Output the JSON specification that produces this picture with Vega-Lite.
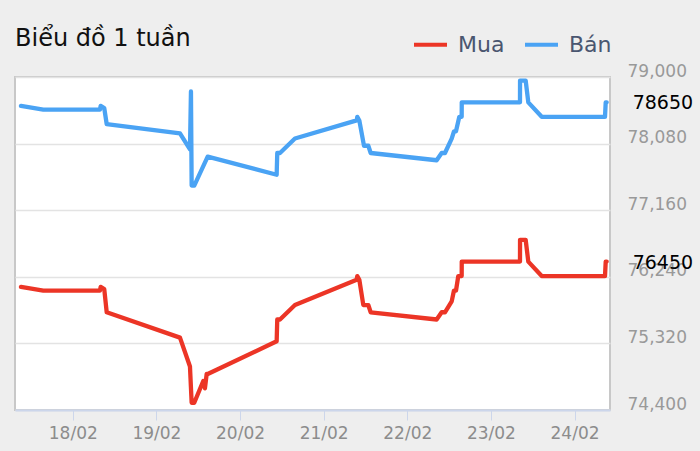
{
  "$schema": "https://vega.github.io/schema/vega-lite/v6.json",
  "width": 595,
  "height": 333,
  "autosize": {"type": "none"},
  "padding": {"left": 15, "top": 77, "right": 90, "bottom": 41},
  "background": "#eeeeee",
  "title": {"text": "Biểu đồ 1 tuần", "anchor": "start", "frame": "group", "fontSize": 24, "font": "DejaVu Sans", "fontWeight": "normal", "color": "#111111", "offset": -25},
  "config": {
    "view": {"fill": "white", "stroke": "#c8c8c8", "strokeWidth": 2},
    "font": "DejaVu Sans"
  },
  "datasets": {
    "prices": [
      {"t": "2024-02-17T09:08", "p": 78600, "s": "Bán"},
      {"t": "2024-02-17T15:32", "p": 78550, "s": "Bán"},
      {"t": "2024-02-18T07:48", "p": 78550, "s": "Bán"},
      {"t": "2024-02-18T08:00", "p": 78600, "s": "Bán"},
      {"t": "2024-02-18T09:02", "p": 78570, "s": "Bán"},
      {"t": "2024-02-18T09:44", "p": 78350, "s": "Bán"},
      {"t": "2024-02-19T06:46", "p": 78220, "s": "Bán"},
      {"t": "2024-02-19T09:38", "p": 78000, "s": "Bán"},
      {"t": "2024-02-19T09:55", "p": 78800, "s": "Bán"},
      {"t": "2024-02-19T10:07", "p": 77500, "s": "Bán"},
      {"t": "2024-02-19T10:52", "p": 77500, "s": "Bán"},
      {"t": "2024-02-19T14:43", "p": 77900, "s": "Bán"},
      {"t": "2024-02-20T10:31", "p": 77650, "s": "Bán"},
      {"t": "2024-02-20T10:41", "p": 77950, "s": "Bán"},
      {"t": "2024-02-20T11:28", "p": 77950, "s": "Bán"},
      {"t": "2024-02-20T15:46", "p": 78150, "s": "Bán"},
      {"t": "2024-02-21T09:29", "p": 78400, "s": "Bán"},
      {"t": "2024-02-21T09:39", "p": 78450, "s": "Bán"},
      {"t": "2024-02-21T10:14", "p": 78400, "s": "Bán"},
      {"t": "2024-02-21T11:35", "p": 78050, "s": "Bán"},
      {"t": "2024-02-21T12:49", "p": 78050, "s": "Bán"},
      {"t": "2024-02-21T13:30", "p": 77950, "s": "Bán"},
      {"t": "2024-02-22T08:26", "p": 77850, "s": "Bán"},
      {"t": "2024-02-22T09:52", "p": 77950, "s": "Bán"},
      {"t": "2024-02-22T10:49", "p": 77950, "s": "Bán"},
      {"t": "2024-02-22T12:45", "p": 78150, "s": "Bán"},
      {"t": "2024-02-22T13:24", "p": 78250, "s": "Bán"},
      {"t": "2024-02-22T13:59", "p": 78250, "s": "Bán"},
      {"t": "2024-02-22T14:56", "p": 78450, "s": "Bán"},
      {"t": "2024-02-22T15:37", "p": 78450, "s": "Bán"},
      {"t": "2024-02-22T15:38", "p": 78650, "s": "Bán"},
      {"t": "2024-02-23T08:21", "p": 78650, "s": "Bán"},
      {"t": "2024-02-23T08:22", "p": 78950, "s": "Bán"},
      {"t": "2024-02-23T09:59", "p": 78950, "s": "Bán"},
      {"t": "2024-02-23T10:44", "p": 78650, "s": "Bán"},
      {"t": "2024-02-23T14:35", "p": 78450, "s": "Bán"},
      {"t": "2024-02-24T08:45", "p": 78450, "s": "Bán"},
      {"t": "2024-02-24T08:57", "p": 78650, "s": "Bán"},
      {"t": "2024-02-24T09:14", "p": 78650, "s": "Bán"},
      {"t": "2024-02-17T09:08", "p": 76100, "s": "Mua"},
      {"t": "2024-02-17T15:32", "p": 76050, "s": "Mua"},
      {"t": "2024-02-18T07:48", "p": 76050, "s": "Mua"},
      {"t": "2024-02-18T08:00", "p": 76100, "s": "Mua"},
      {"t": "2024-02-18T09:02", "p": 76070, "s": "Mua"},
      {"t": "2024-02-18T09:44", "p": 75750, "s": "Mua"},
      {"t": "2024-02-19T06:46", "p": 75400, "s": "Mua"},
      {"t": "2024-02-19T09:38", "p": 75000, "s": "Mua"},
      {"t": "2024-02-19T10:07", "p": 74500, "s": "Mua"},
      {"t": "2024-02-19T10:52", "p": 74500, "s": "Mua"},
      {"t": "2024-02-19T13:27", "p": 74800, "s": "Mua"},
      {"t": "2024-02-19T13:56", "p": 74700, "s": "Mua"},
      {"t": "2024-02-19T14:26", "p": 74900, "s": "Mua"},
      {"t": "2024-02-19T14:53", "p": 74900, "s": "Mua"},
      {"t": "2024-02-20T10:31", "p": 75350, "s": "Mua"},
      {"t": "2024-02-20T10:41", "p": 75650, "s": "Mua"},
      {"t": "2024-02-20T11:28", "p": 75650, "s": "Mua"},
      {"t": "2024-02-20T15:46", "p": 75850, "s": "Mua"},
      {"t": "2024-02-21T09:29", "p": 76200, "s": "Mua"},
      {"t": "2024-02-21T09:39", "p": 76250, "s": "Mua"},
      {"t": "2024-02-21T10:14", "p": 76200, "s": "Mua"},
      {"t": "2024-02-21T11:23", "p": 75850, "s": "Mua"},
      {"t": "2024-02-21T12:49", "p": 75850, "s": "Mua"},
      {"t": "2024-02-21T13:30", "p": 75750, "s": "Mua"},
      {"t": "2024-02-22T08:26", "p": 75650, "s": "Mua"},
      {"t": "2024-02-22T09:52", "p": 75750, "s": "Mua"},
      {"t": "2024-02-22T10:49", "p": 75750, "s": "Mua"},
      {"t": "2024-02-22T12:45", "p": 75900, "s": "Mua"},
      {"t": "2024-02-22T13:24", "p": 76050, "s": "Mua"},
      {"t": "2024-02-22T13:59", "p": 76050, "s": "Mua"},
      {"t": "2024-02-22T14:38", "p": 76250, "s": "Mua"},
      {"t": "2024-02-22T15:37", "p": 76250, "s": "Mua"},
      {"t": "2024-02-22T15:38", "p": 76450, "s": "Mua"},
      {"t": "2024-02-23T08:21", "p": 76450, "s": "Mua"},
      {"t": "2024-02-23T08:22", "p": 76750, "s": "Mua"},
      {"t": "2024-02-23T09:59", "p": 76750, "s": "Mua"},
      {"t": "2024-02-23T10:44", "p": 76450, "s": "Mua"},
      {"t": "2024-02-23T14:35", "p": 76250, "s": "Mua"},
      {"t": "2024-02-24T08:45", "p": 76250, "s": "Mua"},
      {"t": "2024-02-24T08:57", "p": 76450, "s": "Mua"},
      {"t": "2024-02-24T09:14", "p": 76450, "s": "Mua"}
    ],
    "last": [
      {"t": "2024-02-24T09:14", "p": 78650, "lbl": "78650"},
      {"t": "2024-02-24T09:14", "p": 76450, "lbl": "76450"}
    ]
  },
  "layer": [
    {
      "data": {"name": "prices"},
      "mark": {"type": "line", "strokeWidth": 4.3, "strokeJoin": "round", "strokeCap": "round", "clip": true},
      "encoding": {
        "x": {
          "field": "t", "type": "temporal",
          "scale": {"domain": [{"year": 2024, "month": 2, "date": 17, "hours": 7, "minutes": 25}, {"year": 2024, "month": 2, "date": 24, "hours": 10, "minutes": 11}]},
          "axis": {"title": null, "format": "%d/%m", "tickCount": {"interval": "day", "step": 1}, "grid": false, "domainColor": "#ccd6eb", "domainWidth": 2, "tickColor": "#ccd6eb", "tickSize": 10, "tickWidth": 1, "labelFontSize": 17, "labelColor": "#8c8c8c", "labelPadding": 5, "labelFlush": false}
        },
        "y": {
          "field": "p", "type": "quantitative",
          "scale": {"domain": [74400, 79000], "nice": false, "zero": false},
          "axis": {"title": null, "orient": "right", "values": [74400, 75320, 76240, 77160, 78080, 79000], "format": ",d", "grid": true, "gridColor": "#e3e3e3", "gridWidth": 1.5, "domain": false, "ticks": false, "labelPadding": 17, "labelFontSize": 17, "labelColor": "#999999", "labelOffset": -6, "labelBaseline": "middle"}
        },
        "color": {
          "field": "s", "type": "nominal",
          "scale": {"domain": ["Mua", "Bán"], "range": ["#ec3526", "#4aa3f4"]},
          "legend": {"title": null, "orient": "none", "legendX": 397, "legendY": -51, "direction": "horizontal", "symbolType": "stroke", "symbolStrokeWidth": 4, "symbolSize": 1089, "labelFontSize": 22, "labelColor": "#4a5670", "labelOffset": 9, "columnPadding": 12, "padding": 0}
        }
      }
    },
    {
      "data": {"name": "last"},
      "mark": {"type": "text", "align": "left", "baseline": "middle", "dx": 26, "dy": 1, "fontSize": 19, "color": "#000000"},
      "encoding": {
        "x": {"field": "t", "type": "temporal"},
        "y": {"field": "p", "type": "quantitative"},
        "text": {"field": "lbl"}
      }
    }
  ]
}
